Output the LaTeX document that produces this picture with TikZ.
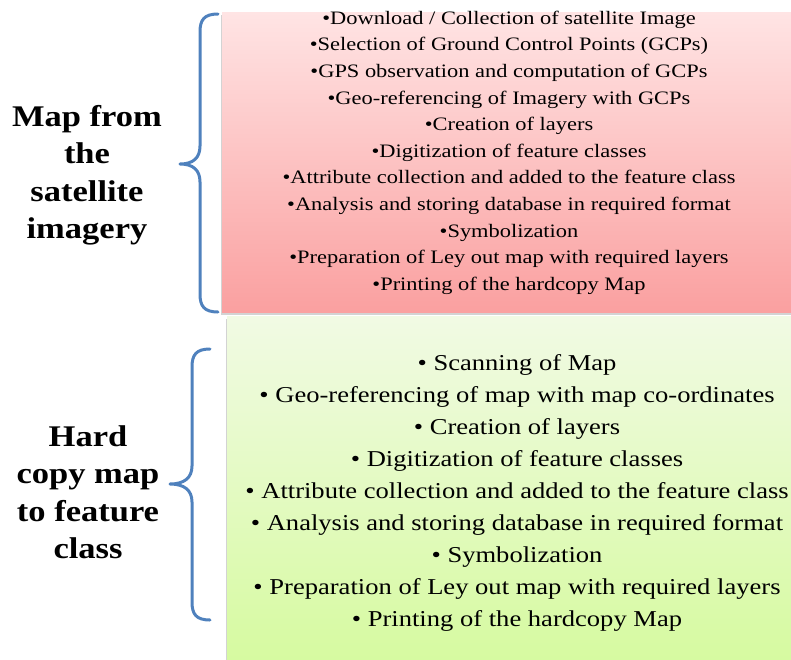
\documentclass[tikz,border=0pt]{standalone}
\usepackage{fontspec}
\usepackage{graphicx}
\setmainfont{Liberation Serif}
\usetikzlibrary{shadows}
\definecolor{redtop}{RGB}{255,228,228}
\definecolor{redbot}{RGB}{250,160,160}
\definecolor{greentop}{RGB}{241,250,228}
\definecolor{greenbot}{RGB}{214,250,160}
\definecolor{bracecol}{RGB}{79,129,189}
\newcommand{\stretchlines}[2]{\scalebox{#1}[1]{\begin{tabular}{@{}c@{}}#2\end{tabular}}}
\tikzset{
  panel/.style={inner sep=0pt, outer sep=0pt, draw=none, drop shadow={shadow xshift=-1.5pt, shadow yshift=-2.5pt, opacity=0.35}},
  bracestyle/.style={draw=bracecol, line width=3pt, line cap=round, line join=round},
  label/.style={inner sep=0pt, font=\fontsize{30}{37.5}\selectfont\bfseries},
  redlist/.style={inner sep=0pt, font=\fontsize{19}{26.6}\selectfont},
  greenlist/.style={inner sep=0pt, font=\fontsize{22.7}{32}\selectfont}
}
\begin{document}
\begin{tikzpicture}[x=1pt,y=-1pt]
\useasboundingbox (0,0) rectangle (791,659);
\path[panel, top color=redtop, bottom color=redbot] (222,12) rectangle (795,312);
\path[panel, top color=greentop, bottom color=greenbot] (227,316) rectangle (795,662);

\node[redlist] (redtext) at (509,152) {\stretchlines{1.18}{%
•Download / Collection of satellite Image\\
•Selection of Ground Control Points (GCPs)\\
•GPS observation and computation of GCPs\\
•Geo-referencing of Imagery with GCPs\\
•Creation of layers\\
•Digitization of feature classes\\
•Attribute collection and added to the feature class\\
•Analysis and storing database in required format\\
•Symbolization\\
•Preparation of Ley out map with required layers\\
•Printing of the hardcopy Map}};

\node[greenlist] (greentext) at (517,492) {\stretchlines{1.17}{%
• Scanning of Map\\
• Geo-referencing of map with map co-ordinates\\
• Creation of layers\\
• Digitization of feature classes\\
• Attribute collection and added to the feature class\\
• Analysis and storing database in required format\\
• Symbolization\\
• Preparation of Ley out map with required layers\\
• Printing of the hardcopy Map}};

\coordinate (b1t) at (218,14);
\coordinate (b1m) at (180,164);
\coordinate (b1b) at (218,312);
\coordinate (b2t) at (210,349);
\coordinate (b2m) at (170,484);
\coordinate (b2b) at (210,620);
\draw[bracestyle] (b1t) .. controls (204,14) and (200,20) .. (200,32)
  -- (200,146) .. controls (200,158) and (193,164) .. (b1m)
  .. controls (193,164) and (200,170) .. (200,182)
  -- (200,294) .. controls (200,306) and (204,312) .. (b1b);
\draw[bracestyle] (b2t) .. controls (196,349) and (192,355) .. (192,367)
  -- (192,466) .. controls (192,478) and (184,484) .. (b2m)
  .. controls (184,484) and (192,490) .. (192,502)
  -- (192,602) .. controls (192,614) and (196,620) .. (b2b);

\node[label] (lab1) at (87,175) {\stretchlines{1.15}{Map from\\the\\satellite\\imagery}};
\node[label] (lab2) at (88,495) {\stretchlines{1.15}{Hard\\copy map\\to feature\\class}};
\end{tikzpicture}
\end{document}
